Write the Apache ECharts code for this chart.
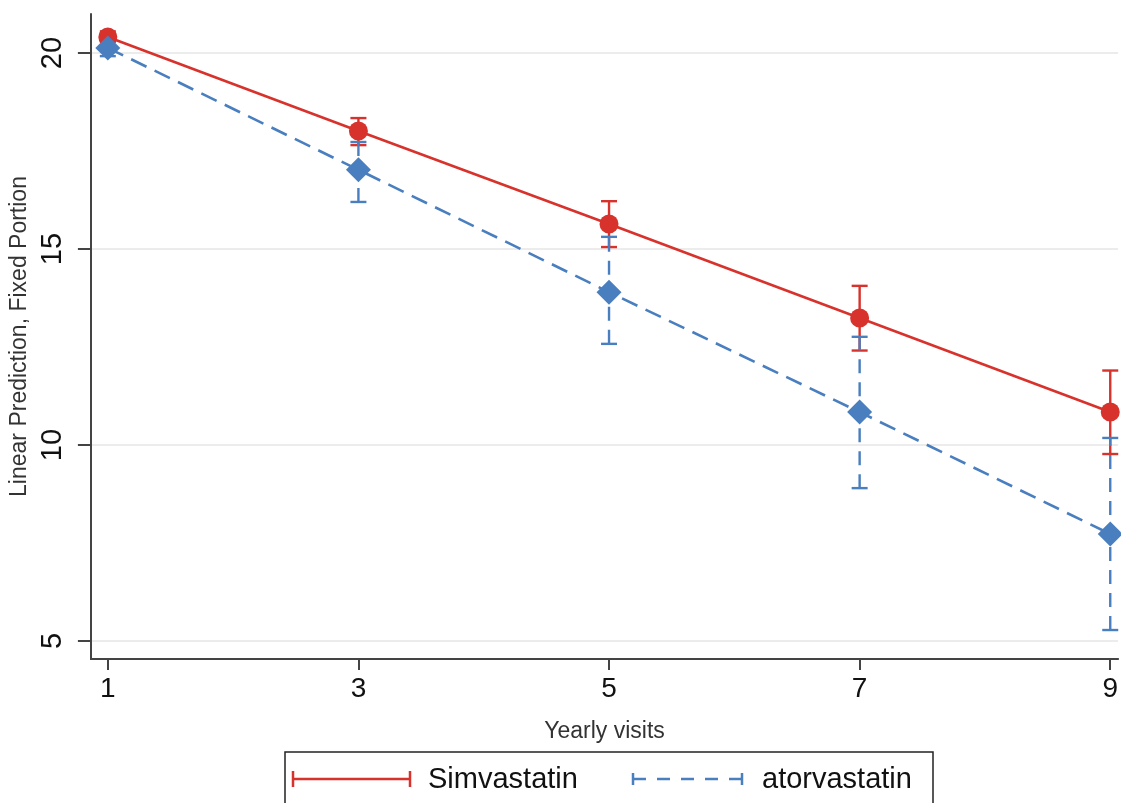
<!DOCTYPE html>
<html><head><meta charset="utf-8">
<script src="https://cdn.jsdelivr.net/npm/echarts@6/dist/echarts.min.js"></script>
<style>html,body{margin:0;padding:0;background:#fff}#c{width:1121px;height:803px}</style>
</head><body><div id="c"></div>
<script>
const visits = [1, 3, 5, 7, 9];
const simvastatin = [20.41, 18.01, 15.64, 13.24, 10.84];
const simLow = [20.28, 17.65, 15.05, 12.41, 9.77];
const simHigh = [20.55, 18.34, 16.22, 14.06, 11.90];
const atorvastatin = [20.13, 17.02, 13.90, 10.84, 7.73];
const atorLow = [19.92, 16.20, 12.58, 8.90, 5.28];
const atorHigh = [20.33, 17.73, 15.31, 12.76, 10.18];
const yTicks = [5, 10, 15, 20];
const xTicks = [1, 3, 5, 7, 9];

const RED = '#d8322c', BLUE = '#4a7fbf';
const font = 'Liberation Sans, Arial, sans-serif';

function errBar(color, dashed) {
  return function (params, api) {
    const x = api.value(0);
    const p1 = api.coord([x, api.value(1)]);
    const p2 = api.coord([x, api.value(2)]);
    const hw = 8;
    const st = {stroke: color, lineWidth: 2.4, lineDash: dashed ? [14, 9] : null};
    const cs = {stroke: color, lineWidth: 2.4};
    return {type: 'group', children: [
      {type: 'line', shape: {x1: p1[0], y1: p1[1], x2: p2[0], y2: p2[1]}, style: st},
      {type: 'line', shape: {x1: p1[0] - hw, y1: p1[1], x2: p1[0] + hw, y2: p1[1]}, style: cs},
      {type: 'line', shape: {x1: p2[0] - hw, y1: p2[1], x2: p2[0] + hw, y2: p2[1]}, style: cs}
    ]};
  };
}

const chart = echarts.init(document.getElementById('c'), null, {renderer: 'canvas'});
chart.setOption({
  animation: false,
  backgroundColor: '#fff',
  grid: {left: 87, top: 14, right: 0, bottom: 144, containLabel: false},
  xAxis: {
    type: 'value', min: 0.865, max: 9.063,
    name: 'Yearly visits', nameLocation: 'middle', nameGap: 61,
    nameTextStyle: {fontFamily: font, fontSize: 23, color: '#333'},
    axisLine: {show: true, onZero: false, lineStyle: {color: '#444', width: 2}},
    axisTick: {show: true, length: 11, lineStyle: {color: '#444', width: 2}, customValues: xTicks},
    axisLabel: {fontFamily: font, fontSize: 28, color: '#111', margin: 16, customValues: xTicks},
    splitLine: {show: false}
  },
  yAxis: {
    type: 'value', min: 4.541, max: 20.995,
    name: 'Linear Prediction, Fixed Portion', nameLocation: 'middle', nameGap: 55, nameRotate: 90,
    nameTextStyle: {fontFamily: font, fontSize: 23, color: '#333'},
    axisLine: {show: true, onZero: false, lineStyle: {color: '#444', width: 2}},
    axisTick: {show: true, length: 13, lineStyle: {color: '#444', width: 2}, customValues: yTicks},
    axisLabel: {fontFamily: font, fontSize: 29, color: '#111', rotate: 90, margin: 23, customValues: yTicks},
    splitLine: {show: true, lineStyle: {color: '#e6e6e6', width: 1.5}}
  },
  series: [
    {type: 'custom', name: 'simErr', renderItem: errBar(RED, false), z: 3,
     encode: {x: 0, y: [1, 2]},
     data: visits.map((v, i) => [v, simLow[i], simHigh[i]])},
    {type: 'custom', name: 'atorErr', renderItem: errBar(BLUE, true), z: 3,
     encode: {x: 0, y: [1, 2]},
     data: visits.map((v, i) => [v, atorLow[i], atorHigh[i]])},
    {type: 'line', name: 'Simvastatin', z: 4, symbol: 'circle', symbolSize: 19,
     lineStyle: {color: RED, width: 2.6}, itemStyle: {color: RED},
     data: visits.map((v, i) => [v, simvastatin[i]])},
    {type: 'line', name: 'atorvastatin', z: 5, symbol: 'diamond', symbolSize: 25,
     lineStyle: {color: BLUE, width: 2.6, type: [17, 9]}, itemStyle: {color: BLUE},
     data: visits.map((v, i) => [v, atorvastatin[i]])}
  ],
  graphic: [
    {type: 'rect', shape: {x: 285, y: 752, width: 648, height: 70},
     style: {fill: '#fff', stroke: '#222', lineWidth: 1.5}, z: 10},
    {type: 'line', shape: {x1: 293, y1: 779, x2: 410, y2: 779}, style: {stroke: RED, lineWidth: 2.5}, z: 11},
    {type: 'line', shape: {x1: 293, y1: 771, x2: 293, y2: 787}, style: {stroke: RED, lineWidth: 2.5}, z: 11},
    {type: 'line', shape: {x1: 410, y1: 771, x2: 410, y2: 787}, style: {stroke: RED, lineWidth: 2.5}, z: 11},
    {type: 'text', x: 428, y: 780, style: {text: 'Simvastatin', fontFamily: font, fontSize: 29, fill: '#111', verticalAlign: 'middle'}, z: 11},
    {type: 'line', shape: {x1: 633, y1: 779, x2: 742, y2: 779}, style: {stroke: BLUE, lineWidth: 2.5, lineDash: [13, 11]}, z: 11},
    {type: 'line', shape: {x1: 633, y1: 773, x2: 633, y2: 785}, style: {stroke: BLUE, lineWidth: 2.5}, z: 11},
    {type: 'line', shape: {x1: 742, y1: 773, x2: 742, y2: 785}, style: {stroke: BLUE, lineWidth: 2.5}, z: 11},
    {type: 'text', x: 762, y: 780, style: {text: 'atorvastatin', fontFamily: font, fontSize: 29, fill: '#111', verticalAlign: 'middle'}, z: 11}
  ]
});
</script></body></html>
